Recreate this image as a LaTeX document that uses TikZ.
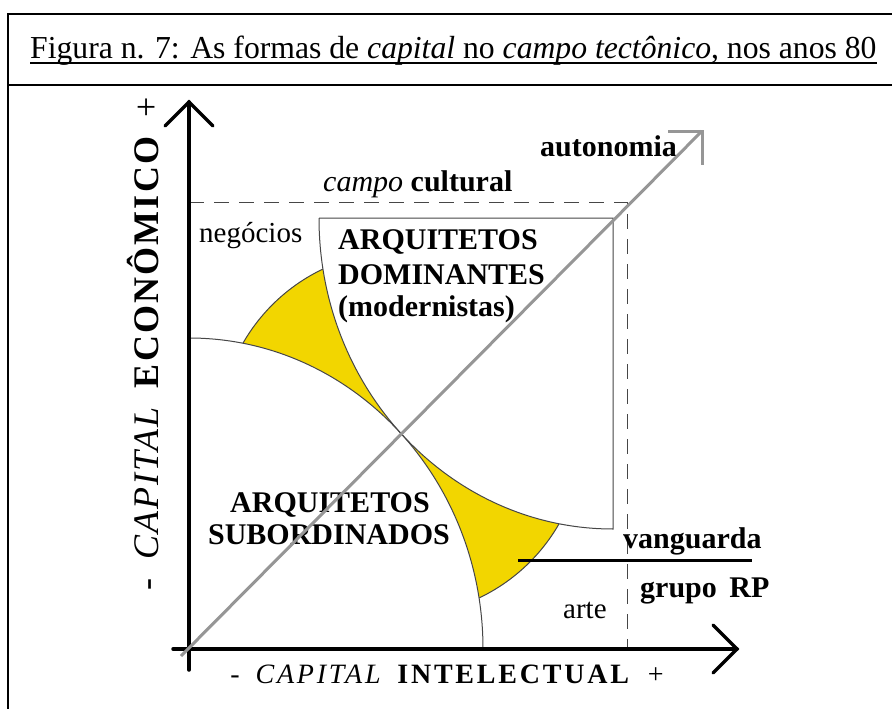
\documentclass[tikz,border=0pt]{standalone}
\usepackage{fontspec}
\setmainfont{Liberation Serif}
\definecolor{gold}{RGB}{242,214,0}
\definecolor{diag}{RGB}{150,150,150}
\definecolor{edge}{RGB}{70,70,70}
\begin{document}
\begin{tikzpicture}[x=1pt,y=-1pt,
  frame/.style={line width=2.5pt,black},
  axisline/.style={line width=3.5pt,black,line cap=round},
  thin/.style={line width=1pt,edge},
  dashline/.style={line width=1pt,edge,dash pattern=on 15pt off 10pt},
  boldlbl/.style={inner sep=0pt,font=\fontsize{30}{34}\selectfont\bfseries},
  reglbl/.style={inner sep=0pt,font=\fontsize{29}{33}\selectfont},
  diagline/.style={line width=3pt,diag}]
\useasboundingbox (0,0) rectangle (892,709);
% frame
\draw[frame] (8,709) -- (8,14) -- (892,14);
\draw[frame] (8,85) -- (892,85);
\node[inner sep=0pt,anchor=base west,font=\fontsize{32}{36}\selectfont,xscale=0.99] (title) at (30,59)
  {Figura n. 7: As formas de \textit{capital} no \textit{campo tectônico}, nos anos 80};
\draw[line width=1.5pt] ([yshift=-4pt]title.base west) -- ([yshift=-4pt]title.base east);
% yellow circle
\filldraw[fill=gold,draw=edge,line width=1pt] (401,433.5) circle[radius=182pt];
% white pies
\fill[white] (189,649) -- (483,649) arc[start angle=0,end angle=90,x radius=294pt,y radius=311pt] -- cycle;
\fill[white] (613,218) -- (319,218) arc[start angle=180,end angle=270,x radius=294pt,y radius=311pt] -- cycle;
% outlines
\draw[thin] (483,649) arc[start angle=0,end angle=90,x radius=294pt,y radius=311pt];
\draw[thin] (319,218) -- (613,218) -- (613,529) arc[start angle=270,end angle=180,x radius=294pt,y radius=311pt];
% dashed field
\coordinate (dA) at (189,202);
\coordinate (dB) at (627,202);
\coordinate (dC) at (627,649);
\draw[dashline] (dA) -- (dB) -- (dC);
% axes
\coordinate (vbot) at (189,670);
\coordinate (vtop) at (189,102);
\coordinate (hleft) at (173,649);
\coordinate (hright) at (737,649);
\draw[axisline] (vbot) -- (vtop);
\draw[axisline] ([shift={(-24,24)}]vtop) -- (vtop) -- ([shift={(24,24)}]vtop);
\draw[axisline] (hleft) -- (hright);
\draw[axisline] ([shift={(-24,-24)}]hright) -- (hright) -- ([shift={(-24,24)}]hright);
% vanguarda line
\coordinate (vl) at (518,560);
\coordinate (vr) at (752,560);
\draw[line width=3pt] (vl) -- (vr);
% labels
\node[inner sep=0pt,anchor=base,rotate=90,font=\fontsize{36}{40}\selectfont\addfontfeature{LetterSpace=6}] (ylab) at (158,344)
  {-\hspace{8pt} \textit{CAPITAL}\hspace{6pt} \textbf{ECONÔMICO}\hspace{6pt} +};
\node[inner sep=0pt,anchor=base,font=\fontsize{28}{32}\selectfont\addfontfeature{LetterSpace=10}] (xlab) at (447,683)
  {-\hspace{6pt} \textit{CAPITAL}\hspace{4pt} \textbf{INTELECTUAL}\hspace{6pt} +};
\node[boldlbl,anchor=base west] (campo) at (323,191) {\textit{\mdseries campo} cultural};
\node[boldlbl,anchor=base west] (auto) at (540,156) {autonomia};
\node[reglbl,anchor=base west] (neg) at (199,242) {negócios};
\node[boldlbl,anchor=base west] (dom1) at (338,249) {ARQUITETOS};
\node[boldlbl,anchor=base west] (dom2) at (338,284) {DOMINANTES};
\node[boldlbl,anchor=base west] (dom3) at (338,316) {(modernistas)};
\node[boldlbl,anchor=base] (sub1) at (330,512) {ARQUITETOS};
\node[boldlbl,anchor=base] (sub2) at (329,544) {SUBORDINADOS};
\node[boldlbl,anchor=base west] (vang) at (623,548) {vanguarda};
\node[boldlbl,anchor=base west] (grp) at (640,597) {grupo\, RP};
\node[reglbl,anchor=base west] (arte) at (563,618) {arte};
% diagonal
\coordinate (gs) at (181,656);
\coordinate (ge) at (702,131);
\draw[diagline] (gs) -- (ge);
\draw[diagline] ([xshift=-34pt]ge) -- (ge) -- ([yshift=-34pt]ge);
\end{tikzpicture}
\end{document}
